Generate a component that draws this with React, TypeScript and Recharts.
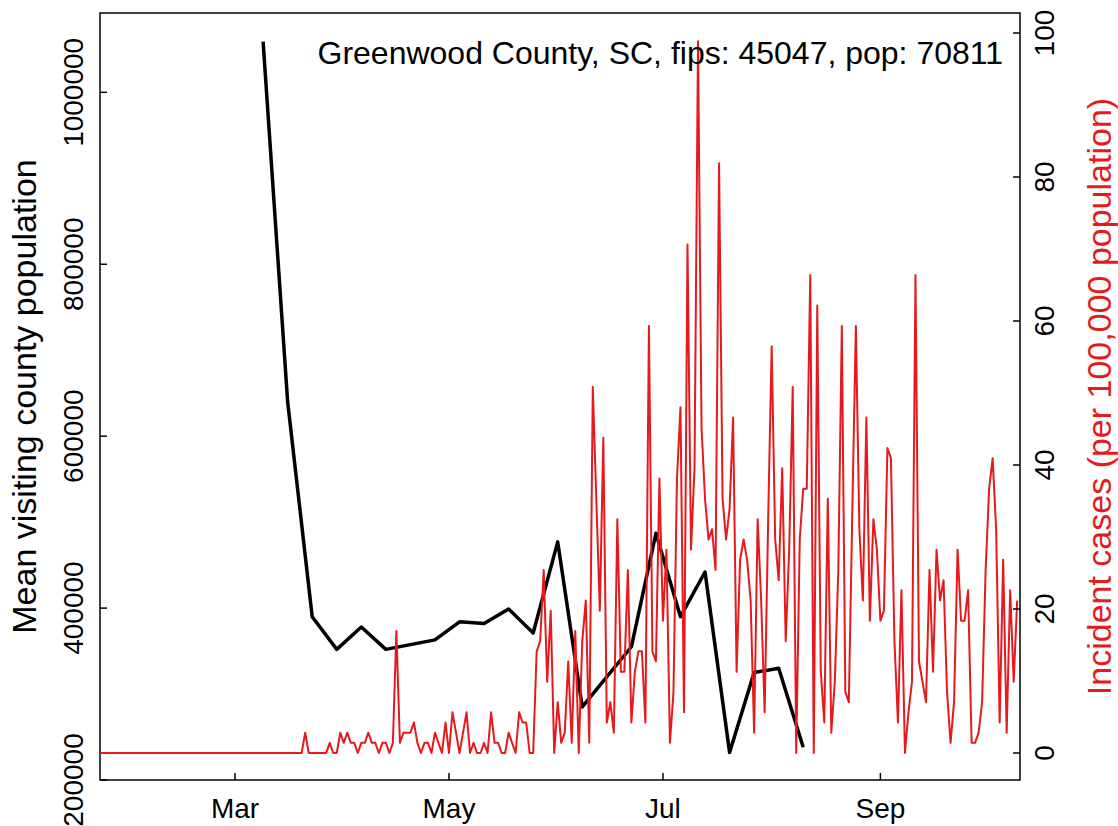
import React from 'react';
import { LineChart, Line, XAxis, YAxis, ReferenceArea } from 'recharts';

// daily new cases, one value per day starting at caseStart
const caseStart = '2020-01-22';
const population = 70811;
const dailyCases = [
  0, 0, 0, 0, 0, 0, 0, 0, 0, 0,
  0, 0, 0, 0, 0, 0, 0, 0, 0, 0,
  0, 0, 0, 0, 0, 0, 0, 0, 0, 0,
  0, 0, 0, 0, 0, 0, 0, 0, 0, 0,
  0, 0, 0, 0, 0, 0, 0, 0, 0, 0,
  0, 0, 0, 0, 0, 0, 0, 0, 0, 2,
  0, 0, 0, 0, 0, 0, 1, 0, 0, 2,
  1, 2, 1, 1, 0, 1, 1, 2, 1, 1,
  0, 1, 1, 0, 1, 12, 1, 2, 2, 2,
  3, 1, 0, 1, 1, 0, 2, 1, 0, 3,
  0, 4, 2, 0, 2, 4, 0, 1, 0, 0,
  1, 0, 4, 1, 1, 0, 0, 2, 1, 0,
  4, 3, 3, 0, 0, 10, 11, 18, 7, 14,
  0, 5, 1, 2, 9, 1, 12, 0, 11, 15,
  1, 36, 25, 14, 31, 3, 5, 2, 23, 8,
  8, 18, 3, 8, 10, 10, 3, 42, 10, 9,
  27, 13, 20, 1, 6, 27, 34, 4, 50, 20,
  28, 70, 32, 25, 21, 22, 18, 58, 25, 21,
  24, 33, 8, 19, 21, 19, 15, 2, 23, 15,
  4, 23, 40, 21, 17, 28, 11, 20, 36, 0,
  21, 26, 26, 47, 0, 44, 8, 3, 25, 2,
  7, 18, 42, 6, 5, 24, 42, 22, 15, 33,
  13, 23, 20, 13, 14, 30, 29, 11, 3, 16,
  0, 4, 7, 47, 9, 7, 5, 18, 8, 20,
  15, 17, 6, 1, 5, 20, 13, 13, 16, 1,
  1, 2, 5, 18, 26, 29, 22, 3, 19, 2,
  16, 7, 15,
];

// weekly mean visiting population (weeks with no point are left out)
const visitDates = [
  '2020-03-09', '2020-03-16', '2020-03-23', '2020-03-30', '2020-04-06', '2020-04-13',
  '2020-04-27', '2020-05-04', '2020-05-11', '2020-05-18', '2020-05-25', '2020-06-01',
  '2020-06-08', '2020-06-22', '2020-06-29', '2020-07-06', '2020-07-13', '2020-07-20',
  '2020-07-27', '2020-08-03', '2020-08-10',
];
const visitValues = [
  1059000, 640000, 390000, 352000, 378000, 352000,
  363000, 384000, 382000, 399000, 371000, 477000,
  285000, 355000, 487000, 390000, 442000, 232000,
  325000, 330000, 238000,
];

const xTickDates = ['2020-03-01', '2020-05-01', '2020-07-01', '2020-09-01'];
const xTickLabels = ['Mar', 'May', 'Jul', 'Sep'];
const leftTicks = [200000, 400000, 600000, 800000, 1000000];
const rightTicks = [0, 20, 40, 60, 80, 100];

const titleText = 'Greenwood County, SC, fips: 45047, pop: 70811';
const leftTitle = 'Mean visiting county population';
const rightTitle = 'Incident cases (per 100,000 population)';

const RED = '#E41A1C';
const FONT = '"Liberation Sans", Arial, Helvetica, sans-serif';

const DAY_MS = 86400000;
const dayIndex = (iso: string) => Math.round((Date.parse(iso) - Date.parse(caseStart)) / DAY_MS);

const visitByDay = new Map(visitDates.map((d, i) => [dayIndex(d), visitValues[i]]));
const table = dailyCases.map((c, i) => ({
  day: i,
  incidence: (c / population) * 100000,
  visitors: visitByDay.has(i) ? visitByDay.get(i) : null,
}));

const xTicks = xTickDates.map(dayIndex);
const xLabelByDay = new Map(xTicks.map((d, i) => [d, xTickLabels[i]]));

const xDomain: [number, number] = [0.5, 262.8];
const leftDomain: [number, number] = [200000, 1092300];
const rightDomain: [number, number] = [-3.75, 102.78];

function LeftTick({ x, y, payload }: any) {
  const tx = x - 17;
  return (
    <g>
      <line x1={x} y1={y} x2={x + 7} y2={y} stroke="#000" strokeWidth={1.5} />
      <text x={tx} y={y} transform={`rotate(-90 ${tx} ${y})`} textAnchor="middle"
        fontSize={28} fontFamily={FONT} fill="#000">{String(payload.value)}</text>
    </g>
  );
}

function RightTick({ x, y, payload }: any) {
  const tx = x + 34;
  return (
    <g>
      <line x1={x - 7} y1={y} x2={x} y2={y} stroke="#000" strokeWidth={1.5} />
      <text x={tx} y={y} transform={`rotate(-90 ${tx} ${y})`} textAnchor="middle"
        fontSize={28} fontFamily={FONT} fill="#000">{String(payload.value)}</text>
    </g>
  );
}

function BottomTick({ x, y, payload }: any) {
  return (
    <g>
      <line x1={x} y1={y - 7} x2={x} y2={y} stroke="#000" strokeWidth={1.5} />
      <text x={x} y={y + 38} textAnchor="middle" fontSize={28} fontFamily={FONT} fill="#000">
        {xLabelByDay.get(payload.value)}
      </text>
    </g>
  );
}

export default function App() {
  return (
    <div style={{ position: 'absolute', left: 0, top: 0, width: 1118, height: 826, background: '#fff', overflow: 'hidden' }}>
      <LineChart width={1118} height={826} data={table} margin={{ top: 13, right: 0, bottom: 0, left: 0 }}>
        <XAxis dataKey="day" type="number" domain={xDomain} allowDataOverflow ticks={xTicks} interval={0}
          tick={<BottomTick />} tickLine={false} axisLine={false} tickSize={0} tickMargin={0} height={46} />
        <YAxis yAxisId="left" orientation="left" type="number" width={100} domain={leftDomain} allowDataOverflow
          ticks={leftTicks} interval={0} tick={<LeftTick />} tickLine={false} axisLine={false} tickSize={0} tickMargin={0} />
        <YAxis yAxisId="right" orientation="right" type="number" width={98} domain={rightDomain} allowDataOverflow
          ticks={rightTicks} interval={0} tick={<RightTick />} tickLine={false} axisLine={false} tickSize={0} tickMargin={0} />
        <ReferenceArea yAxisId="left" x1={xDomain[0]} x2={xDomain[1]} y1={leftDomain[0]} y2={leftDomain[1]}
          fill="none" fillOpacity={0} stroke="#000" strokeWidth={1.5} />
        <Line yAxisId="left" type="linear" dataKey="visitors" stroke="#000" strokeWidth={3.5} dot={false}
          connectNulls isAnimationActive={false} strokeLinejoin="round" />
        <Line yAxisId="right" type="linear" dataKey="incidence" stroke={RED} strokeWidth={2} dot={false}
          isAnimationActive={false} strokeLinejoin="round" />
      </LineChart>
      <svg width={1118} height={826} style={{ position: 'absolute', left: 0, top: 0, pointerEvents: 'none' }}>
        <text x={1003} y={64} textAnchor="end" fontSize={32} fontFamily={FONT} fill="#000">{titleText}</text>
        <text x={36} y={396.5} transform="rotate(-90 36 396.5)" textAnchor="middle" fontSize={34} fontFamily={FONT} fill="#000">
          {leftTitle}
        </text>
        <text x={1111} y={396.5} transform="rotate(-90 1111 396.5)" textAnchor="middle" fontSize={34} fontFamily={FONT} fill={RED}>
          {rightTitle}
        </text>
      </svg>
    </div>
  );
}
